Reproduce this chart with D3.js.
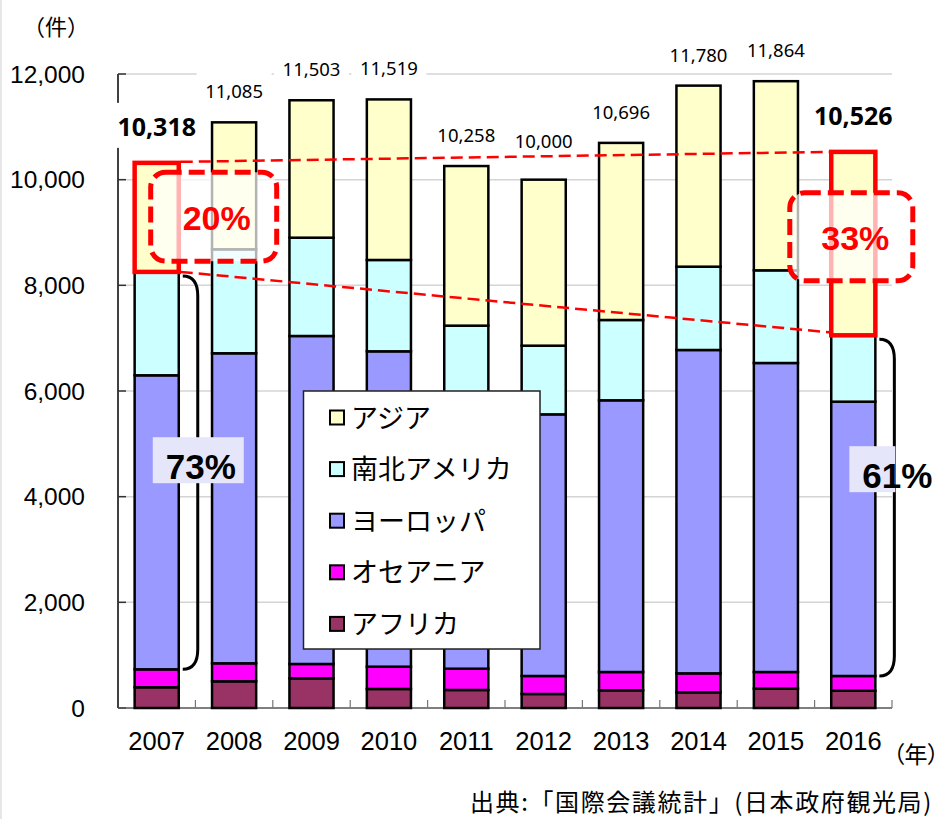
<!DOCTYPE html>
<html>
<head>
<meta charset='UTF-8'>
<title>国際会議件数</title>
<script src='https://d3js.org/d3.v7.min.js'></script>
<style>
  body { margin: 0; background: #fff; }
  svg { display: block; }
</style>
</head>
<body>
<div id="chart"></div>
<script>
// data (件)
var years    = ["2007","2008","2009","2010","2011","2012","2013","2014","2015","2016"];
var africa   = [392, 505, 562, 360, 341, 265, 335, 297, 366, 327];
var oceania  = [340, 341, 271, 422, 403, 341, 346, 359, 315, 279];
var europe   = [5565, 5868, 6208, 5969, 4843, 4952, 5143, 6120, 5849, 5192];
var americas = [1957, 1968, 1861, 1729, 1650, 1300, 1520, 1577, 1754, 1256];
var asia     = [2064, 2403, 2601, 3039, 3021, 3142, 3352, 3427, 3580, 3472];
var totals   = [10318, 11085, 11503, 11519, 10258, 10000, 10696, 11780, 11864, 10526];
var yTicks   = [0, 2000, 4000, 6000, 8000, 10000, 12000];

var seriesNames  = ["アフリカ", "オセアニア", "ヨーロッパ", "南北アメリカ", "アジア"];
var seriesColors = ["#993366", "#ff00ff", "#9999ff", "#ccffff", "#ffffcc"];

var W = 941, H = 819;
var svg = d3.select("#chart").append("svg").attr("width", W).attr("height", H);

// faint page edge on the left
svg.append("line").attr("x1", 1).attr("x2", 1).attr("y1", 0).attr("y2", H)
    .attr("stroke", "#e6e6e6").attr("stroke-width", 2);

var x = d3.scaleBand().domain(years).range([118, 892]).paddingInner(0.43).paddingOuter(0.215);
var y = d3.scaleLinear().domain([0, 12000]).range([708, 74]);
var bw = x.bandwidth();
var cx = function(yr) { return x(yr) + bw / 2; };

// gridlines
svg.append("g").selectAll("line").data(yTicks.filter(function(d) { return d > 0; }))
    .enter().append("line")
    .attr("x1", 118).attr("x2", 892)
    .attr("y1", function(d) { return y(d); }).attr("y2", function(d) { return y(d); })
    .attr("stroke", "#d4d4d4").attr("stroke-width", 1.5);

// y axis
svg.append("line").attr("x1", 118).attr("x2", 118).attr("y1", y(12000)).attr("y2", y(0))
    .attr("stroke", "#000").attr("stroke-width", 1.5);
svg.append("g").selectAll("line").data(yTicks).enter().append("line")
    .attr("x1", 118).attr("x2", 126)
    .attr("y1", function(d) { return y(d); }).attr("y2", function(d) { return y(d); })
    .attr("stroke", "#333").attr("stroke-width", 1.5);
svg.append("g").selectAll("text").data(yTicks).enter().append("text")
    .attr("x", 85).attr("y", function(d) { return y(d); }).attr("dy", "0.36em")
    .attr("text-anchor", "end")
    .style("font", "24.5px 'Liberation Sans', Arial, sans-serif").attr("fill", "#000")
    .text(d3.format(","));

svg.append("text").attr("x", 23).attr("y", 35)
    .style("font", "22px 'Noto Sans CJK JP', sans-serif").text("（件）");

// x axis
svg.append("line").attr("x1", 118).attr("x2", 892).attr("y1", y(0)).attr("y2", y(0))
    .attr("stroke", "#555").attr("stroke-width", 1.5);
svg.append("g").selectAll("line").data(d3.range(1, years.length + 1)).enter().append("line")
    .attr("x1", function(i) { return x.range()[0] + i * x.step(); })
    .attr("x2", function(i) { return x.range()[0] + i * x.step(); })
    .attr("y1", y(0)).attr("y2", y(0) - 8)
    .attr("stroke", "#777").attr("stroke-width", 1.2);
svg.append("g").selectAll("text").data(years).enter().append("text")
    .attr("x", function(d) { return cx(d); }).attr("y", 750)
    .attr("text-anchor", "middle")
    .style("font", "25.5px 'Liberation Sans', Arial, sans-serif").text(function(d) { return d; });
svg.append("text").attr("x", 939).attr("y", 763)
    .attr("text-anchor", "end")
    .style("font", "23px 'Noto Sans CJK JP', sans-serif")
    .style("font-feature-settings", "'palt'")
    .text("（年）");

// stacked bars
var rows = years.map(function(yr, i) {
    return { year: yr, s0: africa[i], s1: oceania[i], s2: europe[i], s3: americas[i], s4: asia[i] };
});
var stack = d3.stack().keys(["s0", "s1", "s2", "s3", "s4"])(rows);

svg.append("g").selectAll("g").data(stack).enter().append("g")
    .attr("fill", function(d, i) { return seriesColors[i]; })
    .selectAll("rect").data(function(d) { return d; }).enter().append("rect")
    .attr("x", function(d) { return x(d.data.year); })
    .attr("width", bw)
    .attr("y", function(d) { return y(d[1]); })
    .attr("height", function(d) { return y(d[0]) - y(d[1]); })
    .attr("stroke", "#000").attr("stroke-width", 2.5);

// total labels
var last = years.length - 1;
years.forEach(function(yr, i) {
    var bold = (i === 0 || i === last);
    var lift = bold ? 27 : 24;
    if (yr === "2012") lift = 32; // label sits higher, clear of the dashed line
    var base = y(totals[i]) - lift;
    if (bold) {
        svg.append("rect").attr("x", cx(yr) - 42).attr("y", base - 33)
            .attr("width", 84).attr("height", 45).attr("fill", "#fff");
    } else {
        svg.append("rect").attr("x", cx(yr) - 37.5).attr("y", base - 26)
            .attr("width", 75).attr("height", 32).attr("fill", "#fff");
    }
    svg.append("text").attr("x", cx(yr)).attr("y", base)
        .attr("text-anchor", "middle")
        .style("font", (bold ? "bold 25px" : "18.5px") + " 'Noto Sans', sans-serif")
        .text(d3.format(",")(totals[i]));
});

// red boxes around the Asia share in first and last year
var asiaBottom = function(i) { return totals[i] - asia[i]; };
[0, last].forEach(function(i) {
    svg.append("rect")
        .attr("x", x(years[i])).attr("width", bw)
        .attr("y", y(totals[i])).attr("height", y(asiaBottom(i)) - y(totals[i]))
        .attr("fill", "none").attr("stroke", "#ff0000").attr("stroke-width", 4.5);
});

// dashed connecting lines
var xa = x(years[0]) + bw + 2, xb = x(years[last]) - 2;
svg.append("line").attr("x1", xa).attr("y1", y(totals[0]) - 1).attr("x2", xb).attr("y2", y(totals[last]))
    .attr("stroke", "#ff0000").attr("stroke-width", 2.5).attr("stroke-dasharray", "12,6");
svg.append("line").attr("x1", xa).attr("y1", y(asiaBottom(0))).attr("x2", xb).attr("y2", y(asiaBottom(last)) - 3)
    .attr("stroke", "#ff0000").attr("stroke-width", 2.5).attr("stroke-dasharray", "12,6");

// dashed rounded callouts with the Asia share
var callouts = [
    { i: 0, text: "20%", dx: 57, v: 9300, w: 126, h: 89, tx: 3 },
    { i: last, text: "33%", dx: -2, v: 8920, w: 123, h: 88, tx: 4 }
];
callouts.forEach(function(c) {
    var mx = cx(years[c.i]) + c.dx, my = y(c.v);
    svg.append("rect").attr("x", mx - c.w / 2).attr("y", my - c.h / 2)
        .attr("width", c.w).attr("height", c.h).attr("rx", 15).attr("ry", 15)
        .attr("fill", "#fff").attr("fill-opacity", 0.7)
        .attr("stroke", "#ff0000").attr("stroke-width", 5).attr("stroke-dasharray", "16,7");
    svg.append("text").attr("x", mx + c.tx).attr("y", my + 13)
        .attr("text-anchor", "middle").attr("fill", "#ff0000")
        .style("font", "bold 34px 'Liberation Sans', Arial, sans-serif").text(c.text);
});

// brackets for Europe + Americas share
var brackets = [
    { i: 0, text: "73%", v: 4690, rx0: -45, rx1: 46, tx: 3 },
    { i: last, text: "61%", v: 4520, rx0: -45, rx1: 1, tx: 3 }
];
brackets.forEach(function(b) {
    var xr = x(years[b.i]) + bw;
    var x0 = xr + 4, x1 = xr + 19;
    var y1 = y(totals[b.i] - asia[b.i]) + 4;
    var y2 = y(africa[b.i] + oceania[b.i]);
    svg.append("path")
        .attr("d", "M" + x0 + "," + y1 + " Q" + x1 + "," + y1 + " " + x1 + "," + (y1 + 20) +
                   " L" + x1 + "," + (y2 - 20) + " Q" + x1 + "," + y2 + " " + x0 + "," + y2)
        .attr("fill", "none").attr("stroke", "#000").attr("stroke-width", 3);
    var my = y(b.v);
    svg.append("rect").attr("x", x1 + b.rx0).attr("y", my - 23)
        .attr("width", b.rx1 - b.rx0).attr("height", 46).attr("fill", "#e6e6fb");
    svg.append("text").attr("x", x1 + b.tx).attr("y", my + 19)
        .attr("text-anchor", "middle").attr("fill", "#000")
        .style("font", "bold 35px 'Liberation Sans', Arial, sans-serif").text(b.text);
});

// legend
var lg = svg.append("g");
lg.append("rect").attr("x", 303.5).attr("y", 391).attr("width", 236.5).attr("height", 258)
    .attr("fill", "#fff").attr("stroke", "#222").attr("stroke-width", 1.5);
var legendItems = seriesNames.map(function(n, i) { return { name: n, color: seriesColors[i] }; }).reverse();
legendItems.forEach(function(d, k) {
    var ry = 417.5 + k * 51.6;
    lg.append("rect").attr("x", 330).attr("y", ry - 7).attr("width", 14).attr("height", 14)
        .attr("fill", d.color).attr("stroke", "#000").attr("stroke-width", 2);
    lg.append("text").attr("x", 351).attr("y", ry + 10)
        .style("font", "27px 'Noto Sans CJK JP', sans-serif").text(d.name);
});

// source
svg.append("text").attr("x", 470).attr("y", 811)
    .style("font", "24px 'Noto Sans CJK JP', sans-serif")
    .style("letter-spacing", "1.6px")
    .text("出典:「国際会議統計」(日本政府観光局)");
</script>
</body>
</html>
